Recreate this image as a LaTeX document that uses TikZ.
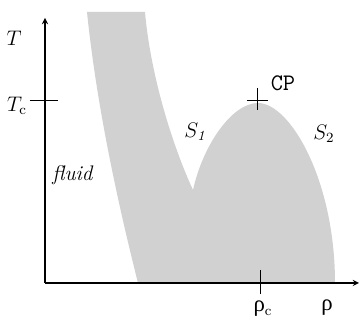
\documentclass[tikz,border=0pt]{standalone}
\usepackage{fontspec}
\newfontfamily\greekfont{Liberation Serif}
\usetikzlibrary{arrows.meta, positioning, calc}

\begin{document}
\begin{tikzpicture}[
    x=0.02cm, y=-0.02cm,
    axis/.style={draw, line width=0.6pt, ->, >=stealth},
    tick/.style={draw, line width=0.5pt},
    region/.style={fill=black!18},
    lbl/.style={inner sep=0pt, font=\fontsize{12}{14}\selectfont}
]
\useasboundingbox (0,0) rectangle (360,320);

% coexistence region
\fill[region] (87,12) .. controls (95,90) and (112,180) .. (138,283)
    -- (335,283)
    .. controls (335,180) and (290,103) .. (258,103)
    .. controls (232,103) and (203,145) .. (193,190)
    .. controls (170,140) and (150,70) .. (145,12)
    -- cycle;

% axes
\coordinate (o) at (45,283);
\coordinate (ytip) at (45,18);
\coordinate (xtip) at (359,283);
\draw[axis] (o) -- (ytip);
\draw[axis] (o) -- (xtip);

% ticks
\coordinate (tcl) at (30,100);
\coordinate (tcr) at (58,100);
\draw[tick] (tcl) -- (tcr);
\coordinate (rct) at (260,270);
\coordinate (rcb) at (260,294);
\draw[tick] (rct) -- (rcb);
\coordinate (cp) at (257,100);
\draw[tick] (cp) ++(-10,0) -- ++(21,0);
\draw[tick] (cp) ++(0,-12) -- ++(0,22);

% labels
\node[lbl] (t) at (14,38) {$T$};
\node[lbl] (tc) at (17,106) {$T_{\mathrm{c}}$};
\node[lbl, font=\ttfamily\fontsize{13.5}{15}\selectfont] (cpl) at (283,83) {CP};
\node[lbl] (s1) at (195,132) {$S_{\mathit{1}}$};
\node[lbl] (s2) at (324,134) {$S_2$};
\node[lbl] (fl) at (73,175) {\textit{fluid}};
\node[lbl] (rc) at (263,309) {{\greekfont\fontsize{13}{15}\selectfont ρ}$_{\mathrm{c}}$};
\node[lbl] (r) at (327,308) {\greekfont\fontsize{13}{15}\selectfont ρ};

\end{tikzpicture}
\end{document}
